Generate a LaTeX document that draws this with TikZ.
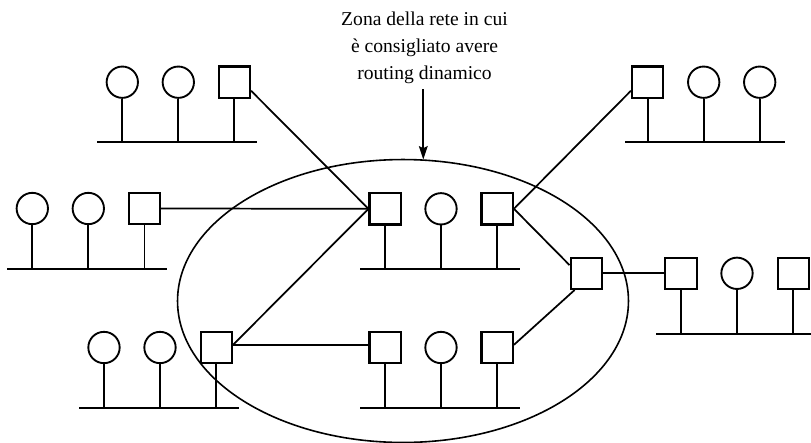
\documentclass[tikz,border=0pt]{standalone}
\usepackage{fontspec}
\setmainfont{Liberation Serif}
\usetikzlibrary{arrows.meta}
\begin{document}
\begin{tikzpicture}[x=0.75pt,y=-0.75pt,
  host/.style={draw,circle,line width=1.4pt,minimum size=23.5pt,inner sep=0pt},
  rtr/.style={draw,rectangle,line width=1.6pt,minimum size=23.5pt,inner sep=0pt},
  stem/.style={line width=1.4pt},
  bus/.style={line width=1.7pt},
  link/.style={line width=1.3pt},
  zone/.style={line width=1.2pt},
  lbl/.style={font=\fontsize{14.7pt}{20pt}\selectfont,align=center,inner sep=0pt}]
\useasboundingbox (0,0) rectangle (811,443);

% ---- top-left LAN
\node[host] (tl1) at (122.3,82.2) {};
\node[host] (tl2) at (178.3,82.2) {};
\node[rtr]  (tl3) at (234.3,82.2) {};
\coordinate (tla) at (97,142); \coordinate (tlb) at (256.7,142);
\draw[bus] (tla) -- (tlb);
\foreach \n in {tl1,tl2,tl3} \draw[stem] (\n.south) -- (\n.south |- tla);

% ---- middle-left LAN
\node[host] (ml1) at (32.3,208.5) {};
\node[host] (ml2) at (88.3,208.5) {};
\node[rtr]  (ml3) at (144.5,208.5) {};
\coordinate (mla) at (7,269); \coordinate (mlb) at (167,269);
\draw[bus] (mla) -- (mlb);
\foreach \n in {ml1,ml2,ml3} \draw[stem] (\n.south) -- (\n.south |- mla);

% ---- bottom-left LAN
\node[host] (bl1) at (104,347.5) {};
\node[host] (bl2) at (160,347.5) {};
\node[rtr]  (bl3) at (216.3,347.5) {};
\coordinate (bla) at (79,407.7); \coordinate (blb) at (239,407.7);
\draw[bus] (bla) -- (blb);
\foreach \n in {bl1,bl2,bl3} \draw[stem] (\n.south) -- (\n.south |- bla);

% ---- centre-top LAN
\node[rtr]  (ct1) at (385.2,208.8) {};
\node[host] (ct2) at (441,208.8) {};
\node[rtr]  (ct3) at (497.2,208.8) {};
\coordinate (cta) at (360,268.7); \coordinate (ctb) at (520,268.7);
\draw[bus] (cta) -- (ctb);
\foreach \n in {ct1,ct2,ct3} \draw[stem] (\n.south) -- (\n.south |- cta);

% ---- centre-bottom LAN
\node[rtr]  (cb1) at (385.2,347.5) {};
\node[host] (cb2) at (441,347.5) {};
\node[rtr]  (cb3) at (497.2,347.5) {};
\coordinate (cba) at (360,407.7); \coordinate (cbb) at (520,407.7);
\draw[bus] (cba) -- (cbb);
\foreach \n in {cb1,cb2,cb3} \draw[stem] (\n.south) -- (\n.south |- cba);

% ---- top-right LAN
\node[rtr]  (tr1) at (647.7,82.2) {};
\node[host] (tr2) at (703.7,82.2) {};
\node[host] (tr3) at (759.7,82.2) {};
\coordinate (tra) at (625.3,142); \coordinate (trb) at (785,142);
\draw[bus] (tra) -- (trb);
\foreach \n in {tr1,tr2,tr3} \draw[stem] (\n.south) -- (\n.south |- tra);

% ---- right LAN
\node[rtr]  (rr1) at (681,273.3) {};
\node[host] (rr2) at (737,273.3) {};
\node[rtr]  (rr3) at (793.3,273.3) {};
\coordinate (rra) at (656,333.7); \coordinate (rrb) at (811,333.7);
\draw[bus] (rra) -- (rrb);
\foreach \n in {rr1,rr2,rr3} \draw[stem] (\n.south) -- (\n.south |- rra);

% ---- standalone router
\node[rtr] (r) at (586.3,273.3) {};

% ---- links
\draw[link] (tl3.-27) -- (ct1.west);
\draw[link] (ml3.east) -- (ct1.west);
\draw[link] ([yshift=2pt]bl3.east) -- (ct1.west);
\draw[link] ([yshift=2pt]bl3.east) -- ([yshift=2pt]cb1.west);
\draw[link] (ct3.east) -- (tr1.207);
\draw[link] (ct3.east) -- (r.154);
\draw[link] ([yshift=2pt]cb3.east) -- (r.-125);
\draw[link] (r.east) -- (rr1.west);

% ---- zone
\draw[zone] (403,301) ellipse [x radius=169.1pt, y radius=106.1pt];

% ---- label and arrow
\node[lbl,anchor=base] (txt) at (424.5,79.3) {Zona della rete in cui\\ è consigliato avere\\ routing dinamico};
\coordinate (arrtop) at (423.3,89);
\coordinate (arrtip) at (423.3,159.5);
\draw[link,-{Stealth[length=10pt,width=6.5pt,inset=1.5pt]}] (arrtop) -- (arrtip);
\end{tikzpicture}
\end{document}
